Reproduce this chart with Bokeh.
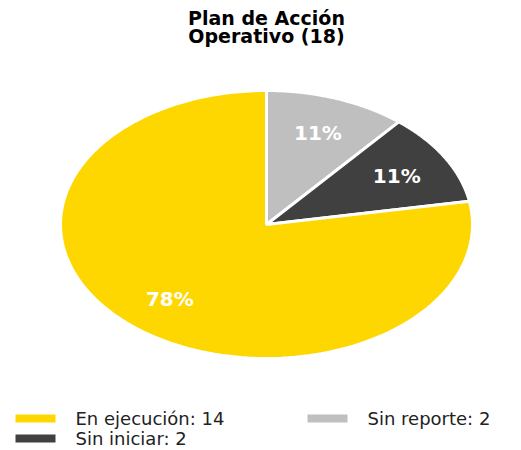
import numpy as np
from bokeh.plotting import figure
from bokeh.models import Range1d
from bokeh.core.properties import value
from bokeh.embed import file_html
from bokeh.resources import INLINE

# Data
categories = ["Sin reporte", "Sin iniciar", "En ejecución"]
counts = [2, 2, 14]
colors = ["#BFBFBF", "#404040", "#FFD700"]
legend_order = ["En ejecución", "Sin reporte", "Sin iniciar"]
title_lines = ["Plan de Acción", "Operativo (18)"]

W, H = 521, 450
p = figure(width=W, height=H, x_range=Range1d(0, W), y_range=Range1d(H, 0),
           output_backend="svg", toolbar_location=None, min_border=0)
p.axis.visible = False
p.grid.visible = False
p.outline_line_color = None
p.background_fill_color = "white"

cx, cy, rx, ry = 266, 224, 206, 134
total = sum(counts)
start = np.pi / 2
xs, ys, lx, ly, labels = [], [], [], [], []
for c in counts:
    span = 2 * np.pi * c / total
    th = np.linspace(start, start - span, 150)
    xs.append([cx] + list(cx + rx * np.cos(th)))
    ys.append([cy] + list(cy - ry * np.sin(th)))
    mid = start - span / 2
    lx.append(cx + 0.73 * rx * np.cos(mid))
    ly.append(cy - 0.73 * ry * np.sin(mid))
    labels.append(f"{round(100 * c / total)}%")
    start -= span

p.patches(xs, ys, fill_color=colors, line_color="white", line_width=3)
p.text(lx, ly, text=labels, text_color="white", text_font=value("DejaVu Sans"),
       text_font_style="bold", text_font_size="20px", text_align="center",
       text_baseline="middle")

# title
p.text([266, 266], [17, 35], text=title_lines, text_color="black",
       text_font=value("DejaVu Sans"), text_font_style="bold",
       text_font_size="19px", text_align="center", text_baseline="middle")

# legend
lg_x = [15, 307, 15]
lg_y = [418, 418, 438]
lg_col = [colors[categories.index(n)] for n in legend_order]
lg_txt = [f"{n}: {counts[categories.index(n)]}" for n in legend_order]
p.rect([x + 20 for x in lg_x], lg_y, width=40, height=8, fill_color=lg_col, line_color=None)
p.text([x + 60 for x in lg_x], lg_y, text=lg_txt, text_color="#222222",
       text_font=value("DejaVu Sans"), text_font_size="18px",
       text_align="left", text_baseline="middle")

open("out.html", "w").write(file_html(p, INLINE))
